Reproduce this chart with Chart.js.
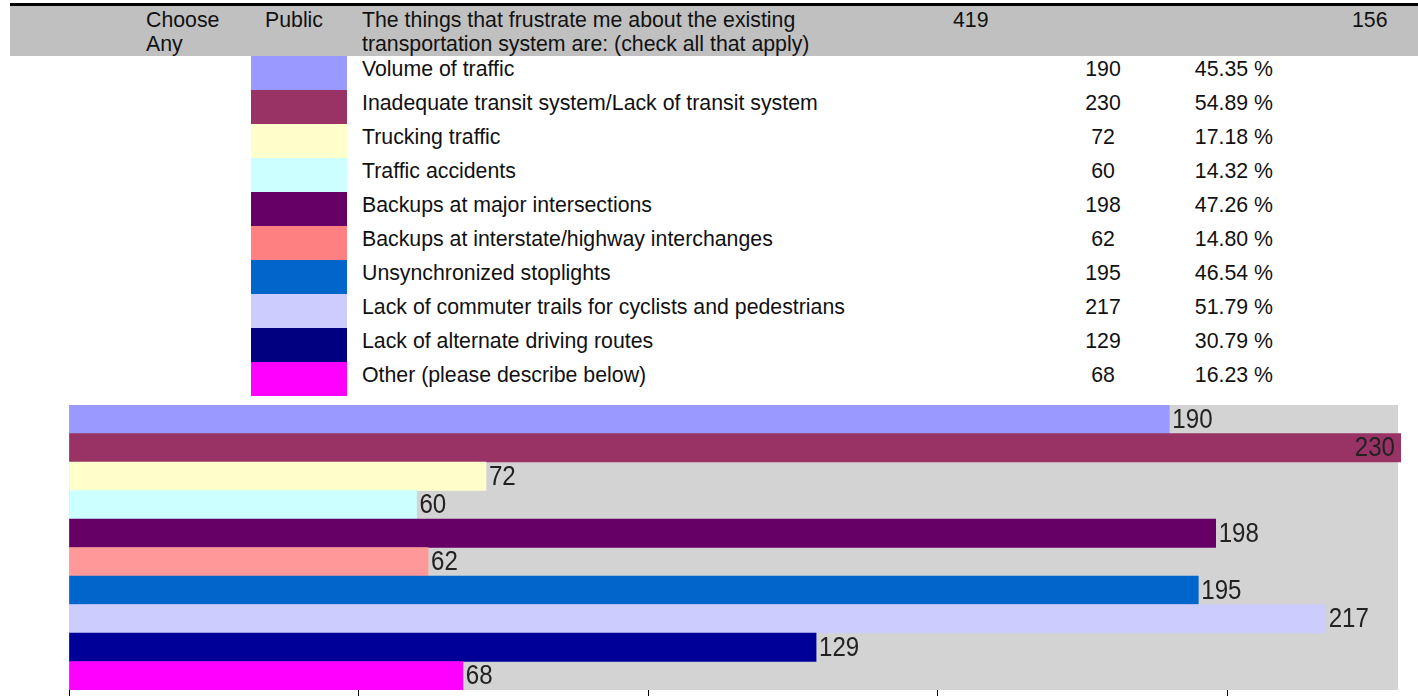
<!DOCTYPE html>
<html>
<head>
<meta charset="utf-8">
<script src="https://cdn.jsdelivr.net/npm/chart.js@4/dist/chart.umd.min.js"></script>
<style>
body { margin: 0; width: 1418px; height: 696px; overflow: hidden; background: #fff; position: relative;
  font-family: "Liberation Sans", Arial, sans-serif; font-size: 21.3px; color: #111; }
.abs { position: absolute; }
#topline { left: 10px; top: 3px; width: 1408px; height: 3px; background: #000; }
#header { left: 10px; top: 6px; width: 1408px; height: 50px; background: #c0c0c0; }
.hd { line-height: 24px; top: 8px; white-space: nowrap; }
.row { line-height: 26px; white-space: nowrap; }
.swatch { width: 96px; height: 34px; left: 251px; }
canvas { position: absolute; left: 0; top: 0; }
</style>
</head>
<body>
<div id="topline" class="abs"></div>
<div id="header" class="abs"></div>
<div class="abs hd" style="left:146px">Choose<br>Any</div>
<div class="abs hd" style="left:265px">Public</div>
<div class="abs hd" style="left:362px">The things that frustrate me about the existing<br>transportation system are: (check all that apply)</div>
<div class="abs hd" style="left:953px">419</div>
<div class="abs hd" style="left:1352px">156</div>
<div id="legend"></div>
<canvas id="chartAnswers" width="1418" height="696"></canvas>
<script>
var labels = [
    'Volume of traffic',
    'Inadequate transit system/Lack of transit system',
    'Trucking traffic',
    'Traffic accidents',
    'Backups at major intersections',
    'Backups at interstate/highway interchanges',
    'Unsynchronized stoplights',
    'Lack of commuter trails for cyclists and pedestrians',
    'Lack of alternate driving routes',
    'Other (please describe below)'
];
var counts = [190, 230, 72, 60, 198, 62, 195, 217, 129, 68];
var percents = ['45.35 %', '54.89 %', '17.18 %', '14.32 %', '47.26 %', '14.80 %', '46.54 %', '51.79 %', '30.79 %', '16.23 %'];
var colors = ['#9999ff', '#993366', '#ffffcc', '#ccffff', '#660066', '#ff8080', '#0066cc', '#ccccff', '#000080', '#ff00ff'];
var barColors = ['#9999ff', '#993366', '#ffffcc', '#ccffff', '#660066', '#ff9999', '#0066cc', '#ccccff', '#000099', '#ff00ff'];

// legend table
var legendHtml = '';
for (var i = 0; i < labels.length; i++) {
    var rowTop = 56 + i * 34;
    legendHtml +=
        '<div class="abs swatch" style="top:' + rowTop + 'px;background:' + colors[i] + '"></div>' +
        '<div class="abs row" style="top:' + rowTop + 'px;left:362px">' + labels[i] + '</div>' +
        '<div class="abs row" style="top:' + rowTop + 'px;left:1063px;width:80px;text-align:center">' + counts[i] + '</div>' +
        '<div class="abs row" style="top:' + rowTop + 'px;left:1180px;width:93px;text-align:right">' + percents[i] + '</div>';
}
document.getElementById('legend').innerHTML = legendHtml;

var plotBg = {
    id: 'plotBg',
    beforeDatasetsDraw: function (chart) {
        var a = chart.chartArea, ctx = chart.ctx;
        ctx.save();
        ctx.fillStyle = '#d3d3d3';
        ctx.fillRect(a.left, a.top, a.right - a.left - 3, a.bottom - a.top);
        ctx.restore();
    }
};

// value at end of each bar, narrow like the original
var valueLabels = {
    id: 'valueLabels',
    afterDatasetsDraw: function (chart) {
        var ctx = chart.ctx, a = chart.chartArea;
        var meta = chart.getDatasetMeta(0);
        var sx = 0.86;
        ctx.save();
        ctx.font = '28px "Liberation Sans", Arial, sans-serif';
        ctx.fillStyle = '#222';
        ctx.textBaseline = 'middle';
        meta.data.forEach(function (bar, i) {
            var txt = String(counts[i]);
            var w = ctx.measureText(txt).width * sx;
            var x = bar.x + 3;
            if (x + w > a.right) x = bar.x - 6 - w;
            ctx.save();
            ctx.translate(x, bar.y + 1);
            ctx.scale(sx, 1);
            ctx.textAlign = 'left';
            ctx.fillText(txt, 0, 0);
            ctx.restore();
        });
        ctx.restore();
    }
};

var ctx = document.getElementById('chartAnswers').getContext('2d');
var myChart = new Chart(ctx, {
    type: 'bar',
    data: {
        labels: labels,
        datasets: [{
            data: counts,
            backgroundColor: barColors,
            borderWidth: 0,
            categoryPercentage: 1,
            barPercentage: 1
        }]
    },
    options: {
        indexAxis: 'y',
        responsive: false,
        animation: false,
        layout: { padding: { left: 69, right: 17, top: 405, bottom: 0 } },
        plugins: { legend: { display: false }, tooltip: { enabled: false } },
        scales: {
            y: { display: false },
            x: {
                min: 0,
                max: 230,
                ticks: { display: false, stepSize: 50 },
                border: { display: false },
                grid: {
                    drawOnChartArea: false,
                    tickLength: 6,
                    color: function (c) { return c.tick && c.tick.value % 50 === 0 ? '#000' : 'rgba(0,0,0,0)'; }
                }
            }
        }
    },
    plugins: [plotBg, valueLabels]
});
</script>
</body>
</html>
